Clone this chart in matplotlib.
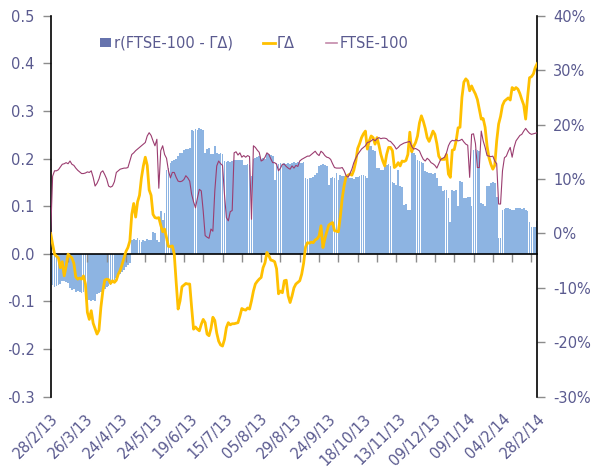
import numpy as np
import matplotlib
matplotlib.use('Agg')
import matplotlib.pyplot as plt
from matplotlib.patches import Patch, Rectangle
from matplotlib.lines import Line2D

plt.rcParams['font.family'] = ['DejaVu Sans']
plt.rcParams['axes.unicode_minus'] = False

dates = ['28/2/13', '26/3/13', '24/4/13', '24/5/13', '19/6/13', '15/7/13', '05/8/13',
         '29/8/13', '24/9/13', '18/10/13', '13/11/13', '09/12/13', '09/1/14', '04/2/14', '28/2/14']

# r(FTSE-100 - ΓΔ)  (left axis)
corr = [0.085,
        -0.065, -0.07, -0.068, -0.066, -0.064,
        -0.058, -0.057, -0.06, -0.062,
        -0.072, -0.075, -0.074,
        -0.08, -0.078, -0.08, -0.082, -0.08,
        -0.095, -0.1, -0.098, -0.1, -0.097, -0.1,
        -0.085, -0.082, -0.08,
        -0.075, -0.074, -0.07,
        -0.068, -0.066, -0.062, -0.055,
        -0.05, -0.045, -0.042, -0.038, -0.035,
        -0.028, -0.024, -0.02,
        0.03, 0.032, 0.028, 0.033, 0.03, 0.025, 0.03, 0.027, 0.032, 0.028, 0.03,
        0.045, 0.044,
        0.03, 0.025,
        0.09, 0.07, 0.085, 0.175,
        0.18, 0.19, 0.195, 0.198, 0.2, 0.205,
        0.212, 0.212,
        0.218, 0.22, 0.221, 0.222,
        0.26, 0.258, 0.262, 0.26, 0.265, 0.263, 0.26,
        0.212,
        0.22, 0.222,
        0.21, 0.21,
        0.226,
        0.212, 0.21, 0.212, 0.21,
        0.194, 0.193, 0.195, 0.192, 0.194,
        0.197, 0.196, 0.198, 0.197, 0.196,
        0.187, 0.186, 0.188, 0.186,
        0.163,
        0.2, 0.202, 0.203, 0.205, 0.2, 0.202, 0.2, 0.21, 0.21, 0.208, 0.205,
        0.156,
        0.19, 0.188, 0.19, 0.189, 0.19, 0.188, 0.19, 0.189,
        0.19, 0.192, 0.19, 0.193, 0.191, 0.19, 0.192,
        0.16, 0.158, 0.16, 0.159, 0.161, 0.165,
        0.17,
        0.185, 0.187, 0.188, 0.186,
        0.185,
        0.145,
        0.16, 0.162, 0.16,
        0.17,
        0.155,
        0.165, 0.164, 0.163,
        0.16, 0.16, 0.159, 0.16, 0.158,
        0.162, 0.162, 0.164,
        0.166, 0.166, 0.163,
        0.16,
        0.226, 0.227,
        0.218, 0.215,
        0.18, 0.18,
        0.177, 0.175,
        0.187, 0.186, 0.188, 0.185,
        0.15, 0.148,
        0.145,
        0.177,
        0.142, 0.14,
        0.103,
        0.105,
        0.093, 0.093,
        0.215, 0.212, 0.208,
        0.197, 0.195, 0.192, 0.19,
        0.173, 0.172,
        0.17, 0.17, 0.168, 0.17,
        0.16,
        0.142, 0.142,
        0.132, 0.133, 0.135,
        0.118,
        0.066,
        0.133, 0.132, 0.134,
        0.1,
        0.152, 0.15,
        0.118, 0.117,
        0.12, 0.12,
        0.1,
        0.219, 0.22, 0.218, 0.215,
        0.107, 0.105,
        0.1,
        0.142, 0.143,
        0.149, 0.15, 0.148,
        0.12,
        0.034, 0.034,
        0.093, 0.095, 0.097, 0.096, 0.094,
        0.093, 0.092,
        0.097, 0.096, 0.097, 0.095, 0.097,
        0.091, 0.09,
        0.066,
        0.057, 0.056, 0.057,
        0.068]

# ΓΔ (right axis, %)
gamma_delta = [0.0, -2.0, -3.8, -4.2, -4.5, -6.3, -5.2, -7.8, -6.0, -3.8, -4.2,
               -4.5, -5.5, -8.0, -8.4, -8.2, -8.4, -7.8, -9.3, -14.5, -15.8,
               -14.2, -16.5, -17.5, -18.5, -17.8, -13.6, -10.6, -8.6, -8.4, -8.5,
               -9.2, -8.7, -9.0, -8.6, -7.5, -6.8, -5.7, -4.5, -3.3, -2.6,
               -1.4, 3.5, 5.5, 3.0, 5.8, 7.0, 10.2, 12.4, 14.0, 12.5,
               8.0, 7.0, 3.5, 2.9, 2.8, 2.9, 1.5, 0.3, 0.8, -0.8, -2.4,
               -2.4, -2.3, -3.8, -9.0, -13.9, -12.4, -9.8, -9.5, -9.2, -9.3, -9.3,
               -13.6, -17.6, -17.2, -17.6, -17.9, -16.7, -15.8, -16.4, -18.5, -18.8,
               -17.5, -15.4, -16.0, -18.3, -19.8, -20.5, -20.7, -19.5, -17.3, -16.4,
               -16.8, -16.6, -16.6, -16.5, -16.4, -15.2, -13.8, -14.0, -14.1, -13.7, -13.9,
               -12.4, -10.6, -9.3, -8.8, -8.4, -8.1, -6.3, -5.4, -3.5, -4.1,
               -4.9, -5.0, -5.2, -6.5, -11.1, -10.6, -10.9, -8.7, -8.6, -11.5, -12.7,
               -11.5, -10.0, -9.3, -9.0, -8.7, -7.5, -5.5, -2.5, -1.7, -1.8,
               -1.6, -1.7, -1.2, -1.0, -0.5, 1.4, -2.6, -1.0, 0.3, 1.5,
               1.8, 2.0, 0.5, 0.4, 0.3, 3.0, 6.5, 8.8, 10.4, 10.7,
               10.9, 10.7, 11.6, 13.2, 15.6, 16.5, 17.6, 18.3, 18.8, 15.5,
               17.0, 17.9, 17.6, 16.4, 17.6, 16.2, 14.5, 13.3, 12.4, 14.5,
               15.8, 15.8, 15.2, 12.1, 12.4, 13.0, 12.4, 13.3, 13.2, 13.4, 14.5,
               18.6, 15.0, 16.0, 16.7, 17.9, 20.3, 21.6, 20.6, 19.3, 17.6, 16.9, 17.8, 18.8, 18.2,
               16.5, 14.2, 13.6, 13.6, 13.6, 14.5, 10.9, 10.3, 15.3, 15.4,
               17.0, 19.4, 19.5, 25.0, 27.8, 28.4, 28.0, 26.2, 27.1, 26.3,
               25.6, 24.6, 22.8, 21.0, 21.1, 19.5, 16.1, 13.9, 12.7, 11.8,
               12.5, 17.0, 20.1, 21.5, 23.5, 24.3, 24.6, 24.9, 24.5, 26.8,
               26.4, 26.8, 26.5, 25.7, 24.6, 23.6, 21.0, 25.0, 28.6, 28.8, 29.3, 30.5, 31.2]

# FTSE-100 (right axis, %)
ftse = [0.0, 10.5,
        11.5, 11.5, 11.7, 12.2, 12.7, 12.8, 13.0, 12.8, 13.3,
        12.7, 12.5, 12.0, 11.6, 11.3, 11.0, 11.0, 11.1, 11.3, 11.2,
        11.5, 10.3, 8.7, 9.2, 10.0, 11.2, 11.5, 10.8, 10.0, 8.7,
        8.5, 8.7, 9.5, 11.2, 11.5, 11.8, 11.9, 12.0, 12.0, 12.1,
        13.3, 14.5, 14.8, 15.2, 15.5, 15.8, 16.1, 16.4, 16.7, 17.9,
        18.5, 18.0, 17.0, 16.1, 17.3, 8.3, 15.2, 16.1,
        14.5, 13.8, 11.5, 10.2, 11.2, 11.2, 10.3, 9.6, 9.5, 9.6, 9.9, 10.6,
        10.2, 9.6, 7.2, 5.8, 4.7, 6.5, 8.1, 7.8, 4.1, -0.4,
        -0.7, -0.9, 0.8, 0.4, 7.8, 12.4, 13.3, 12.8, 12.5, 7.2,
        2.9, 2.3, 4.0, 4.2, 14.8, 15.0, 14.4, 14.8, 14.0, 14.3,
        14.0, 14.3, 14.1, 2.6, 16.1, 15.8, 15.3, 14.9, 13.3, 13.5,
        14.0, 14.8, 14.5, 13.7, 13.0, 13.0, 12.7, 11.5, 12.0, 12.7,
        12.7, 12.3, 12.0, 11.8, 12.4, 12.0, 12.5, 12.3, 13.3, 13.6,
        13.8, 14.0, 14.2, 14.2, 14.5, 14.8, 15.1, 14.6, 14.3, 15.1,
        14.8, 14.3, 14.0, 13.9, 13.6, 12.8, 12.1, 12.0, 12.0, 12.0,
        12.1, 11.5, 10.6, 10.3, 11.0, 11.8, 13.0, 13.8, 14.5, 15.0,
        15.5, 15.8, 16.1, 16.7, 16.8, 17.0, 17.3, 17.0, 17.4, 17.6,
        17.4, 17.5, 17.5, 17.4, 17.0, 16.9, 16.5, 16.1, 15.5, 15.8,
        16.2, 16.4, 16.6, 16.7, 16.8, 16.9,
        16.0, 15.5, 15.6, 15.4, 15.15, 14.3, 13.6, 13.3, 13.8, 13.5, 13.0, 12.8, 12.5, 12.0,
        12.8, 13.6, 13.8, 14.0, 14.8, 16.1, 16.8, 17.1, 17.0, 17.2,
        17.0, 17.1, 17.3, 16.8, 16.4, 16.2,
        10.3, 18.2, 18.3, 16.5, 12.1, 12.1, 18.8, 17.0, 15.8, 14.3,
        14.2, 14.1, 14.2, 13.3, 12.8, 5.4, 5.4, 11.5, 13.9, 14.2,
        15.1, 15.8, 14.0, 15.8, 17.0, 17.5, 18.0, 18.2, 18.8, 19.3,
        18.8, 18.4, 18.2, 18.3, 18.4, 18.5]

left_ticks = [-0.3, -0.2, -0.1, 0.0, 0.1, 0.2, 0.3, 0.4, 0.5]
right_ticks = [-30, -20, -10, 0, 10, 20, 30, 40]

n = len(corr)
x = np.arange(n)
label_pos = np.arange(0, n, 18)[:len(dates)]
tick_pos = np.arange(9, n, 10)

TXT = '#5A5A8F'
TICKC = '#8C8C8C'
FS = 10.5

fig = plt.figure(figsize=(5.97, 4.70), dpi=100)
ax = fig.add_axes([0.0849, 0.156, 0.815, 0.8106])
ax2 = ax.twinx()

ax.bar(x, corr, width=0.9, color='#8DB4E2', linewidth=0, zorder=1)
ax2.plot(np.arange(len(gamma_delta)), gamma_delta, color='#FFC000', lw=2.0, zorder=3)
ax2.plot(np.arange(len(ftse)), ftse, color='#9B3D70', lw=0.8, zorder=4)

ax.set_xlim(0, n - 1)
ax.set_ylim(-0.3, 0.5)
ax2.set_ylim(-30, 40)

ax.set_yticks(left_ticks)
ax.set_yticklabels([f'{v:.1f}' for v in left_ticks])
ax2.set_yticks(right_ticks)
ax2.set_yticklabels([f'{v}%' for v in right_ticks])

for s in ['top', 'right']:
    ax.spines[s].set_visible(False)
ax.spines['bottom'].set_position(('data', 0))
ax.spines['bottom'].set_color('black')
ax.spines['bottom'].set_linewidth(1.2)
ax.spines['bottom'].set_zorder(5)
ax.spines['left'].set_color('black')
ax.spines['left'].set_linewidth(1.2)
for s in ['top', 'left', 'bottom']:
    ax2.spines[s].set_visible(False)
ax2.spines['right'].set_color('black')
ax2.spines['right'].set_linewidth(1.2)

ax.tick_params(axis='y', direction='out', length=5.5, width=1, color=TICKC,
               labelcolor=TXT, labelsize=FS, pad=6)
ax2.tick_params(axis='y', direction='out', length=5.5, width=1, color=TICKC,
                labelcolor=TXT, labelsize=FS, pad=6)
ax.set_xticks(tick_pos)
ax.tick_params(axis='x', direction='out', length=5.5, width=1, color=TICKC, labelbottom=False)

sec = ax.secondary_xaxis(0.0)
sec.set_xticks(label_pos, labels=dates)
sec.spines['bottom'].set_visible(False)
sec.tick_params(axis='x', length=0, pad=10.5, labelcolor=TXT, labelsize=FS)
for lbl in sec.get_xticklabels():
    lbl.set_rotation(45)
    lbl.set_ha('right')
    lbl.set_rotation_mode('anchor')

handles = [Patch(facecolor='#6673AD', edgecolor='none'),
           Line2D([], [], color='#FFC000', lw=2),
           Line2D([], [], color='#C48AAA', lw=1.2)]
labels = ['r(FTSE-100 - ΓΔ)', 'ΓΔ', 'FTSE-100']
leg = ax2.legend(handles, labels, ncol=3, loc='center', bbox_to_anchor=(0.418, 0.928),
                 frameon=False, fontsize=FS, labelcolor=TXT, handlelength=0.8,
                 handleheight=0.6, handletextpad=0.15, columnspacing=2.1, borderpad=0)

# the reference chart area is cropped a few pixels in from the left edge,
# cutting the minus signs of the left-axis labels
fig.add_artist(Rectangle((0, 0), 8.5 / 597, 1, transform=fig.transFigure,
                         facecolor='white', edgecolor='none', zorder=10))

fig.savefig('out.png', dpi=100)
